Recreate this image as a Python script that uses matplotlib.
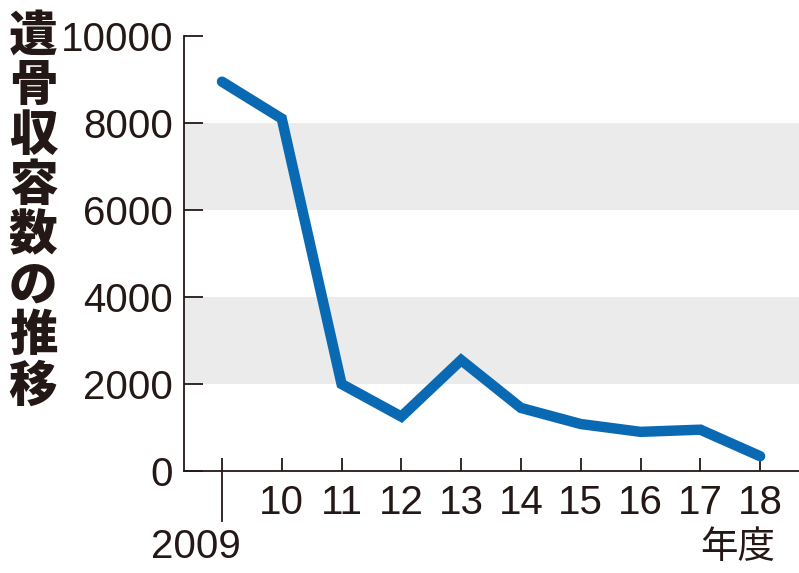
import matplotlib
matplotlib.use("Agg")
import matplotlib.pyplot as plt

years = [2009, 2010, 2011, 2012, 2013, 2014, 2015, 2016, 2017, 2018]
counts = [8950, 8100, 2000, 1250, 2550, 1450, 1080, 900, 950, 340]
xtick_labels = ["", "10", "11", "12", "13", "14", "15", "16", "17", "18"]
first_label = "2009"
unit_label = "年度"
yticks = [0, 2000, 4000, 6000, 8000, 10000]
bands = [(2000, 4000), (6000, 8000)]
title = "遺骨収容数の推移"

num_font = ["Liberation Sans", "DejaVu Sans"]
cjk_font = ["Noto Sans CJK JP", "DejaVu Sans"]
ink = "#231815"

fig = plt.figure(figsize=(7.99, 5.73), dpi=100)
ax = fig.add_axes([184/799, 1-471/573, 1-184/799, (471-36)/573])

for lo, hi in bands:
    ax.axhspan(lo, hi, color="#ebebeb", lw=0, zorder=0)

ax.plot(years, counts, color="#0a69b3", lw=7.5, solid_capstyle="round",
        solid_joinstyle="miter", zorder=3)

ax.set_xlim(2009 - 0.635, 2009 + 9.65)
ax.set_ylim(0, 10000)
ax.set_yticks(yticks)
ax.set_yticklabels([str(v) for v in yticks], fontfamily=num_font, fontsize=29, color=ink)
ax.set_xticks(years)
ax.set_xticklabels(xtick_labels, fontfamily=num_font, fontsize=29, color=ink)
ax.tick_params(axis="y", direction="in", length=13.5, width=1.3, pad=8, colors=ink)
ax.tick_params(axis="x", direction="in", length=9.5, width=1.3, pad=9, colors=ink)

for s in ["top", "right"]:
    ax.spines[s].set_visible(False)
for s in ["left", "bottom"]:
    ax.spines[s].set_color(ink)
    ax.spines[s].set_linewidth(1.3)

# long tick for first year
ax.plot([years[0], years[0]], [0, -1150], color=ink, lw=1.3, clip_on=False)
ax.text(years[0] - 0.43, -1300, first_label, ha="center", va="top",
        fontfamily=num_font, fontsize=29, color=ink)
ax.text(years[-1] + 0.25, -1300, unit_label, ha="right", va="top",
        fontfamily=cjk_font, fontsize=27, color=ink)

fig.text(33/799, 1-211/573, "\n".join(title), ha="center", va="center",
         fontfamily=cjk_font, fontweight="heavy", fontsize=35, color=ink,
         linespacing=1.04)

fig.savefig("out.png", dpi=100)
